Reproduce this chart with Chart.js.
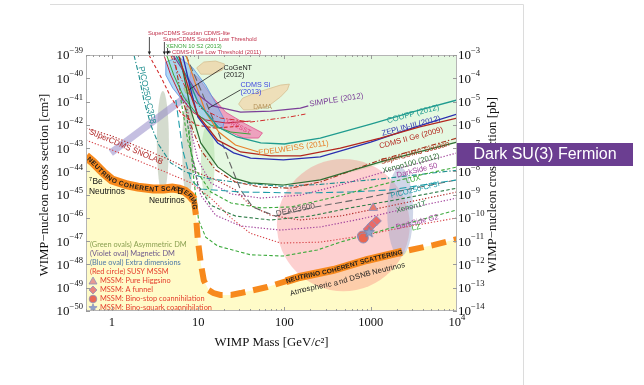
<!DOCTYPE html>
<html>
<head>
<meta charset="utf-8">
<script src="https://cdn.jsdelivr.net/npm/chart.js@4.4.0/dist/chart.umd.min.js"></script>
<style>
  html, body { margin: 0; padding: 0; background: #fff; }
  #wrap { position: relative; width: 644px; height: 385px; }
</style>
</head>
<body>
<div id="wrap"><canvas id="c" width="644" height="385"></canvas></div>
<script>
// WIMP mass in GeV/c^2, spin-independent cross section in cm^2.

// Region already excluded by current experiments
const excludedMass  = [4.2, 4.8, 6.3, 8.2, 10.7, 16, 27, 53, 97, 260, 760, 2200, 10000];
const excludedSigma = [1e-39, 1.38e-40, 1.17e-41, 1.0e-42, 1.35e-43, 1.86e-44, 4.3e-45, 2.6e-45, 2.3e-45, 4.3e-45, 1.15e-44, 3.7e-44, 1.66e-43];

// Neutrino coherent scattering floor
const floorMass  = [0.5, 0.6, 0.8, 1, 1.5, 2, 3, 4, 5, 6, 7, 8, 8.9, 9.4, 9.9, 10.7, 11.6, 13.2, 15, 18, 24, 31, 63, 150, 370, 900, 2200, 5300, 10000];
const floorSigma = [4.5e-44, 2.5e-44, 8.5e-45, 4.3e-45, 2.6e-45, 2.1e-45, 1.74e-45, 1.74e-45, 1.9e-45, 1.74e-45, 1.4e-45, 9.5e-46, 5.9e-46, 1.3e-46, 1.1e-47, 1.15e-48, 2.1e-49, 7.9e-50, 5.9e-50, 4.9e-50, 4.9e-50, 5.9e-50, 1.07e-49, 2.9e-49, 5.8e-49, 1.55e-48, 3.4e-48, 6.8e-48, 1.23e-47];

// Current limits
const couppMass = [5.5, 8.2, 10, 17, 28, 53, 100, 260, 1000, 3000, 10000];
const couppSigma = [1e-39, 5.1e-41, 8.7e-42, 8.1e-43, 3.0e-43, 1.66e-43, 1.5e-43, 2.7e-43, 1.07e-42, 3.5e-42, 1.17e-41];
const zeplinMass = [6.6, 8.2, 9.9, 16.8, 25.7, 40.5, 97, 260, 1000, 3000, 10000];
const zeplinSigma = [1e-39, 3.2e-41, 2.2e-42, 1.66e-43, 6.2e-44, 3.7e-44, 3.1e-44, 4.2e-44, 1.8e-43, 7.2e-43, 2.9e-42];
const cdmsGeMass = [5.95, 7.8, 9.9, 16.8, 31, 69, 153, 444, 1290, 3700, 10000];
const cdmsGeSigma = [1e-39, 3.2e-41, 2.6e-42, 2.2e-43, 6.8e-44, 4.6e-44, 4.6e-44, 1.0e-43, 2.7e-43, 8.1e-43, 1.95e-42];
const edelweissMass = [7.2, 9.4, 12.2, 17.3, 27, 50];
const edelweissSigma = [1e-39, 5.1e-41, 3.5e-42, 4.9e-43, 1.35e-43, 6.8e-44];
const simpleMass = [5.1, 7.2, 10.1, 14.7, 31, 69, 153, 189];
const simpleSigma = [1e-39, 1.38e-40, 1.9e-41, 6.5e-42, 3.5e-42, 3.9e-42, 5.2e-42, 6.5e-42];
const xenon100Mass = [5.95, 6.8, 8.2, 10.7, 16.8, 25.7, 40.5, 97, 261, 1390, 10000];
const xenon100Sigma = [1e-39, 1.38e-40, 4.4e-42, 1.66e-43, 1.55e-44, 5.1e-45, 3.2e-45, 2.6e-45, 4.3e-45, 2.75e-44, 1.8e-43];
const cdmsLiteMass = [2.68, 3.7, 4.8, 6.3, 9.4, 15.9, 31];
const cdmsLiteSigma = [1e-39, 1.12e-40, 1.58e-41, 3.2e-42, 9.8e-43, 7.2e-43, 8.9e-43];
const soudanLowMass = [4.0, 4.8, 6.3, 8.6, 12.2, 20.8, 40.5];
const soudanLowSigma = [1e-39, 1.38e-40, 1.58e-41, 3.5e-42, 1.62e-42, 1.2e-42, 1.45e-42];
const xenon10Mass = [4.3, 5.2, 6.8, 9.4, 14, 23.8, 40.5];
const xenon10Sigma = [1e-39, 1.38e-40, 1.58e-41, 3.2e-42, 9.8e-43, 4.9e-43, 4.0e-43];
const cdmsLowMass = [4.8, 5.8, 7.55, 10.7, 18.2, 40.5, 117, 175];
const cdmsLowSigma = [1e-39, 1.86e-40, 2.6e-41, 5.2e-42, 1.95e-42, 1.32e-42, 2.2e-42, 2.9e-42];

// Projected sensitivities
const soudanMass = [5.2, 6.3, 8.2, 10.7, 15.9, 27, 53, 117, 261, 1290, 10000];
const soudanSigma = [1e-39, 1.9e-41, 9.8e-43, 8.3e-44, 1.15e-44, 3.5e-45, 2.1e-45, 1.9e-45, 3.5e-45, 3.1e-44, 2.7e-43];
const darkside50Mass = [7.2, 8.2, 9.9, 14, 24, 53, 153, 444, 1290, 3700, 10000];
const darkside50Sigma = [1.17e-41, 6.0e-43, 3.1e-44, 3.2e-45, 1.07e-45, 7.1e-46, 9.5e-46, 2.6e-45, 8.5e-45, 2.3e-44, 6.2e-44];
const luxMass = [6.3, 7.55, 9.4, 14, 24, 53, 117, 340, 1290, 3700, 10000];
const luxSigma = [1.17e-41, 2.2e-43, 1.15e-44, 1.3e-45, 4.4e-46, 2.7e-46, 2.95e-46, 7.1e-46, 2.6e-45, 6.9e-45, 1.55e-44];
const picoCF3IMass = [5.5, 6.6, 8.2, 10.7, 31, 153, 580, 1680, 10000];
const picoCF3ISigma = [1.17e-41, 8.3e-44, 4.3e-45, 1.74e-45, 1.3e-45, 1.17e-45, 1.3e-45, 1.6e-45, 4.3e-45];
const xenon1TMass = [7.2, 8.2, 9.9, 14, 27, 69, 200, 580, 1920, 10000];
const xenon1TSigma = [5e-42, 8.3e-44, 2.6e-45, 3.5e-46, 1.2e-46, 8.1e-47, 1.2e-46, 2.7e-46, 5.9e-46, 1.9e-45];
const darksideG2Mass = [8.6, 10.7, 15.9, 31, 90, 261, 756, 2190, 10000];
const darksideG2Sigma = [3.1e-44, 9.5e-46, 1.3e-46, 4.5e-47, 3.0e-47, 4.1e-47, 8.9e-47, 2.2e-46, 7.1e-46];
const lzMass = [7.8, 8.9, 10.1, 12.2, 16.8, 40.5, 97, 241, 444, 1290, 3700, 10000];
const lzSigma = [6.0e-43, 4.3e-45, 8.1e-47, 1.5e-47, 6.2e-48, 2.6e-48, 2.3e-48, 4.2e-48, 9.1e-48, 2.75e-47, 8.1e-47, 2.2e-46];
const deapMass = [7.2, 10.7, 15.9, 22.5, 31, 42.7, 78.7, 228, 756, 2190, 10000];
const deapSigma = [1e-39, 3.2e-41, 9.8e-43, 3.1e-44, 1.6e-45, 2.95e-46, 1.2e-46, 2.95e-46, 6.5e-46, 1.45e-45, 4.3e-45];
const snolabGeMass = [0.5, 1, 2.2, 4.2, 8.2, 16, 27, 40, 69, 150, 440, 1300, 10000];
const snolabGeSigma = [7.2e-43, 3.3e-43, 1e-43, 3.7e-44, 1.15e-44, 4.3e-45, 1.6e-45, 3.5e-46, 1.3e-46, 8.1e-47, 1.2e-46, 2.7e-46, 1.3e-45];
const snolabSiMass = [0.5, 1, 2.2, 4.2, 8.2, 14, 24, 40, 90, 260, 760, 2200, 10000];
const snolabSiSigma = [2.2e-43, 8.3e-44, 2.5e-44, 9.3e-45, 3.2e-45, 7.1e-46, 1e-46, 2.2e-47, 8.3e-48, 9.1e-48, 1.66e-47, 3.7e-47, 1e-46];
const picoC3F8Mass = [1.8, 2.05, 2.34, 2.82, 3.5, 4.8, 7.2, 12.2, 31, 90, 260, 1290, 10000];
const picoC3F8Sigma = [1e-39, 1.38e-40, 1.17e-41, 9.8e-43, 1.35e-43, 2.3e-44, 9.3e-45, 5.1e-45, 3.2e-45, 2.3e-45, 2.75e-45, 4.7e-45, 1.12e-44];

// Signal regions
const cdmsSiMass = [4.21, 5.95, 8.64, 12.2, 15.9, 20.2, 19.2, 14.7, 10.1, 6.8, 5.06, 4.21];
const cdmsSiSigma = [5.0e-40, 8.2e-40, 2.8e-40, 5.1e-41, 8.7e-42, 1.62e-42, 7.2e-43, 8.1e-43, 2.4e-42, 9.5e-42, 3.8e-41, 1.38e-40];
const cresstMass = [8.19, 10.1, 14.0, 20.8, 35.6, 55.5, 50, 33.5, 20.8, 14.0, 10.1, 7.77];
const cresstSigma = [1.86e-40, 1.02e-40, 1.9e-41, 3.5e-42, 1.07e-42, 4.5e-43, 2.7e-43, 2.7e-43, 6.0e-43, 1.95e-42, 9.5e-42, 5.1e-41];
const damaMass = [29.4, 32.7, 42.7, 60.1, 89.9, 114, 108, 89.9, 65.5, 46, 33.5];
const damaSigma = [7.8e-42, 1.4e-41, 2.1e-41, 3.2e-41, 5.1e-41, 5.6e-41, 3.2e-41, 1.58e-41, 6.5e-42, 4.4e-42, 4.4e-42];
const cogentMass = [9.6, 11.6, 15.9, 20.2, 19.2, 14.7, 10.7];
const cogentSigma = [2.8e-40, 5.0e-40, 5.5e-40, 4.1e-40, 2.3e-40, 1.5e-40, 1.5e-40];
const overlapMass = [6.8, 7.77, 8.87, 8.4, 7.17];
const overlapSigma = [3.8e-41, 5.1e-41, 3.5e-41, 2.1e-41, 2.3e-41];
const magneticMass = [0.97, 7.2];
const magneticSigma = [6.2e-44, 1.58e-41];

// Model ovals: centre (mass, sigma) and half extent in decades
const ovalNames = ['SUSY MSSM', 'Extra dimensions', 'Asymmetric DM a', 'Asymmetric DM b', 'Asymmetric DM c'];
const ovalMass = [481, 2193, 3.89, 7.56, 12.9];
const ovalSigma = [4.9e-47, 1.78e-46, 1.8e-43, 1e-43, 2.6e-44];
const ovalMassDecades = [0.77, 0.15, 0.07, 0.064, 0.08];
const ovalSigmaDecades = [2.84, 1.93, 2.2, 2.15, 1.6];

// MSSM benchmark points
const higgsinoMass = [1070], higgsinoSigma = [2.7e-46];
const funnelMass = [1160, 1030, 935], funnelSigma = [7.4e-47, 4.9e-47, 3.3e-47];
const stopMass = [800, 820], stopSigma = [1.66e-47, 1.37e-47];
const squarkMass = [960], squarkSigma = [2.45e-47];

// Label pointers
const cogentLeadMass = [19.2, 7.77], cogentLeadSigma = [2.8e-40, 3.2e-41];
const cdmsSiLeadMass = [31, 13.2], cdmsSiLeadSigma = [3.2e-41, 5.2e-42];

// Axis ticks
const massTicks = [1, 10, 100, 1000, 10000];
const massTickLabels = ['1', '10', '100', '1000', '10^4'];
const sigmaExponents = [-39, -40, -41, -42, -43, -44, -45, -46, -47, -48, -49, -50];
const pbExponents = [-3, -4, -5, -6, -7, -8, -9, -10, -11, -12, -13, -14];

const SANS = '"Liberation Sans", Arial, Helvetica, sans-serif';
const SERIF = '"Liberation Serif", "Times New Roman", Times, serif';
const CAL = 'Lato, "Open Sans", sans-serif';
const ORANGE = '#f7891d';

function pts(ms, ss) { return ms.map((m, i) => ({ x: m, y: ss[i] })); }
function curve(label, ms, ss, color, dash, width, order) {
  return { label, data: pts(ms, ss), borderColor: color, borderDash: dash || [],
           borderWidth: width || 1.1, fill: false, order: order == null ? 20 : order,
           pointRadius: 0, borderCapStyle: 'butt' };
}
function region(label, ms, ss, fillColor, lineColor) {
  return { label, data: pts(ms.concat(ms[0]), ss.concat(ss[0])), fill: 'shape',
           backgroundColor: fillColor, borderColor: lineColor, borderWidth: 0.8,
           order: 80, pointRadius: 0 };
}
function markers(label, ms, ss, style, fillColor, r) {
  return { label, data: pts(ms, ss), showLine: false, pointStyle: style, pointRadius: r,
           backgroundColor: fillColor, borderColor: '#8d90bb', borderWidth: 1, order: 1 };
}

// filled star used as a point style
const starImg = document.createElement('canvas');
starImg.width = 12; starImg.height = 12;
(function () {
  const g = starImg.getContext('2d');
  g.beginPath();
  for (let i = 0; i < 10; i++) {
    const r = i % 2 ? 2.4 : 5.6, a = -Math.PI / 2 + i * Math.PI / 5;
    g.lineTo(6 + r * Math.cos(a), 6.3 + r * Math.sin(a));
  }
  g.closePath(); g.fillStyle = '#8fa3c9'; g.fill();
  g.strokeStyle = '#6f82aa'; g.lineWidth = 0.8; g.stroke();
})();

const DOT = [1.3, 1.8], DASH = [3.5, 2.2], LONG = [7, 3.5], DASHDOT = [5, 2, 1.3, 2];

const datasets = [
  { id: 'excluded', label: 'Excluded', data: pts(excludedMass, excludedSigma), fill: 'end',
    backgroundColor: '#e5f8e1', borderWidth: 0, order: 100, pointRadius: 0 },
  { id: 'floorFill', label: 'Neutrino background', data: pts(floorMass, floorSigma), fill: 'start',
    backgroundColor: '#fffbc8', borderWidth: 0, order: 99, pointRadius: 0 },
  region('CDMS Si', cdmsSiMass, cdmsSiSigma, 'rgba(125,190,240,0.6)', '#5b8de0'),
  region('CRESST', cresstMass, cresstSigma, 'rgba(242,110,168,0.62)', '#df4f8c'),
  region('DAMA', damaMass, damaSigma, '#eedfb9', '#d6bf92'),
  region('CoGeNT', cogentMass, cogentSigma, '#ecdcb4', '#d6bf92'),
  region('CoGeNT/CDMS Si', overlapMass, overlapSigma, '#f0e012', '#e0c800'),
  curve('Magnetic DM', magneticMass, magneticSigma, 'rgba(150,138,200,0.55)', null, 7, 85),

  curve('PICO250-C3F8', picoC3F8Mass, picoC3F8Sigma, '#1f8f8f', DASHDOT, 1.1, 40),
  curve('SuperCDMS SNOLAB Ge', snolabGeMass, snolabGeSigma, '#b22a2a', DOT, 1.1, 40),
  curve('SuperCDMS SNOLAB Si', snolabSiMass, snolabSiSigma, '#d8484c', DOT, 1.1, 40),
  curve('DEAP3600', deapMass, deapSigma, '#666666', LONG, 1.1, 38),
  curve('LZ', lzMass, lzSigma, '#3daa3d', DASH, 1.1, 36),
  curve('DarkSide G2', darksideG2Mass, darksideG2Sigma, '#a2449c', DOT, 1.2, 36),
  curve('Xenon1T', xenon1TMass, xenon1TSigma, '#2f7d48', DASH, 1.1, 36),
  curve('PICO250-CF3I', picoCF3IMass, picoCF3ISigma, '#1c9ca8', LONG, 1.1, 36),
  curve('LUX', luxMass, luxSigma, '#3daa3d', DASH, 1.1, 36),
  curve('DarkSide 50', darkside50Mass, darkside50Sigma, '#a2449c', DOT, 1.2, 36),
  curve('SuperCDMS Soudan', soudanMass, soudanSigma, '#a8331d', DASHDOT, 1.1, 34),
  curve('Xenon100 (2012)', xenon100Mass, xenon100Sigma, '#2e6e33', null, 1.2, 30),
  curve('CDMS-II Ge Low Threshold (2011)', cdmsLowMass, cdmsLowSigma, '#d22c2c', DASHDOT, 1.0, 30),
  curve('XENON 10 S2 (2013)', xenon10Mass, xenon10Sigma, '#3aa53a', null, 1.0, 30),
  curve('SuperCDMS Soudan Low Threshold', soudanLowMass, soudanLowSigma, '#c2253f', null, 1.0, 30),
  curve('SuperCDMS Soudan CDMS-lite', cdmsLiteMass, cdmsLiteSigma, '#d23030', DASH, 1.1, 30),
  curve('SIMPLE (2012)', simpleMass, simpleSigma, '#7b3f98', null, 1.2, 28),
  curve('EDELWEISS (2011)', edelweissMass, edelweissSigma, '#e8802a', null, 1.2, 28),
  curve('CDMS II Ge (2009)', cdmsGeMass, cdmsGeSigma, '#b3261e', null, 1.3, 26),
  curve('ZEPLIN-III (2012)', zeplinMass, zeplinSigma, '#2b2fb0', null, 1.3, 26),
  curve('COUPP (2012)', couppMass, couppSigma, '#1f9b8f', null, 1.3, 26),

  curve('CoGeNT pointer', cogentLeadMass, cogentLeadSigma, '#222', null, 0.8, 8),
  curve('CDMS Si pointer', cdmsSiLeadMass, cdmsSiLeadSigma, '#222', null, 0.8, 8),

  curve('Neutrino floor', floorMass.slice(0, 13), floorSigma.slice(0, 13), ORANGE, null, 9, 6),
  curve('Neutrino floor (high mass)', floorMass.slice(12), floorSigma.slice(12), ORANGE, [15, 8], 6, 6),

  markers('MSSM: Pure Higgsino', higgsinoMass, higgsinoSigma, 'triangle', '#ea7a6c', 5),
  markers('MSSM: A funnel', funnelMass, funnelSigma, 'rectRot', '#e96a68', 5),
  markers('MSSM: Bino-stop coannihilation', stopMass, stopSigma, 'circle', '#e9654f', 5),
  { label: 'MSSM: Bino-squark coannihilation', data: pts(squarkMass, squarkSigma), showLine: false,
    pointStyle: starImg, pointRadius: 6, order: 0 }
];

// Curve labels: text, mass, sigma of the text centre, angle (deg), colour, size
const curveLabels = [
  ['COUPP (2012)', 3100, 2.9e-42, -15, '#1f9b8f', 8],
  ['ZEPLIN-III (2012)', 2940, 8.9e-43, -15, '#2b2fb0', 7.7],
  ['CDMS II Ge (2009)', 2940, 2.7e-43, -15, '#b3261e', 7.7],
  ['SuperCDMS Soudan', 3270, 6.2e-44, -15, '#a8331d', 7.6],
  ['Xenon100 (2012)', 2940, 2.2e-44, -15, '#2e6e33', 7.6],
  ['DarkSide 50', 3450, 1.1e-44, -14, '#a2449c', 7.6],
  ['LUX', 3100, 4.5e-45, -14, '#3daa3d', 7.6],
  ['PICO250-CF3I', 3270, 1.6e-45, -14, '#1c9ca8', 7.6],
  ['Xenon1T', 2940, 2.95e-46, -14, '#2f7d48', 7.6],
  ['DarkSide G2', 3450, 6.6e-47, -14, '#a2449c', 7.6],
  ['LZ', 3360, 3.8e-47, -14, '#3daa3d', 7.6],
  ['EDELWEISS (2011)', 127, 1.0e-43, -8, '#e8802a', 8],
  ['SIMPLE (2012)', 399, 1.17e-41, -9, '#7b3f98', 8],
  ['DEAP3600', 134, 2.2e-46, -12, '#555555', 8],
  ['SuperCDMS SNOLAB', 1.45, 1.12e-43, 23, '#b22a2a', 8],
  ['PICO250-C3F8', 2.54, 1.9e-41, 78, '#1f8f8f', 8.5],
  ['CRESST', 29.4, 8.1e-43, 27, '#e03f7a', 6.5],
  ['DAMA', 55.7, 5.9e-42, 0, '#b4935a', 6.5]
];

// Left-aligned two-line notes: lines, mass, sigma of first line, colour, size, line step (px)
const notes = [
  [['CoGeNT', '(2012)'], 19.7, 2.8e-40, '#222', 7.2, 7],
  [['CDMS Si', '(2013)'], 31, 5.1e-41, '#3c44e0', 7.2, 7]
];

const legendRows = [
  ['(Green ovals) Asymmetric DM', '#8ba052', null],
  ['(Violet oval) Magnetic DM', '#6e5a8c', null],
  ['(Blue oval) Extra dimensions', '#4f7aa6', null],
  ['(Red circle) SUSY MSSM', '#e5402e', null],
  ['MSSM: Pure Higgsino', '#e5402e', 'triangle'],
  ['MSSM: A funnel', '#e5402e', 'diamond'],
  ['MSSM: Bino-stop coannihilation', '#e5402e', 'circle'],
  ['MSSM: Bino-squark coannihilation', '#e5402e', 'star']
];

const ovalColors = ['rgba(250,110,110,0.32)', 'rgba(150,165,205,0.45)',
                    'rgba(160,176,146,0.45)', 'rgba(160,176,146,0.45)', 'rgba(176,222,164,0.5)'];

function pathPx(chart, ms, ss) {
  const x = chart.scales.x, y = chart.scales.y;
  return ms.map((m, i) => [x.getPixelForValue(m), y.getPixelForValue(ss[i])]);
}
// keep the part of a pixel polyline between two x positions
function trimPath(P, x0, x1) {
  const out = [];
  for (let i = 1; i < P.length; i++) {
    const a = P[i - 1], b = P[i];
    if (b[0] < x0 || a[0] > x1) continue;
    const cut = (xx) => [xx, a[1] + (b[1] - a[1]) * (xx - a[0]) / (b[0] - a[0])];
    if (!out.length) out.push(a[0] < x0 ? cut(x0) : a);
    out.push(b[0] > x1 ? cut(x1) : b);
  }
  return out;
}
function textOnPath(ctx, text, P, font, color, offset) {
  const L = [0];
  for (let i = 1; i < P.length; i++) L.push(L[i - 1] + Math.hypot(P[i][0] - P[i - 1][0], P[i][1] - P[i - 1][1]));
  const total = L[L.length - 1];
  ctx.font = font;
  const k = total / ctx.measureText(text).width;
  ctx.fillStyle = color; ctx.textAlign = 'center'; ctx.textBaseline = 'middle';
  let s = 0;
  for (const ch of text) {
    const cw = ctx.measureText(ch).width * k;
    const mid = s + cw / 2;
    let i = 1;
    while (i < L.length - 1 && L[i] < mid) i++;
    const t = (mid - L[i - 1]) / ((L[i] - L[i - 1]) || 1);
    const px = P[i - 1][0] + t * (P[i][0] - P[i - 1][0]);
    const py = P[i - 1][1] + t * (P[i][1] - P[i - 1][1]);
    const ang = Math.atan2(P[i][1] - P[i - 1][1], P[i][0] - P[i - 1][0]);
    ctx.save(); ctx.translate(px, py); ctx.rotate(ang); ctx.fillText(ch, 0, offset); ctx.restore();
    s += cw;
  }
}
function powerLabel(ctx, exp, x, y, align, size, expSize) {
  ctx.font = size + 'px ' + SERIF; const wb = ctx.measureText('10').width;
  ctx.font = expSize + 'px ' + SERIF; const we = ctx.measureText(exp).width;
  const x0 = align === 'right' ? x - wb - we : align === 'center' ? x - (wb + we) / 2 : x;
  ctx.textAlign = 'left'; ctx.textBaseline = 'alphabetic'; ctx.fillStyle = '#111';
  ctx.font = size + 'px ' + SERIF; ctx.fillText('10', x0, y + size * 0.34);
  ctx.font = expSize + 'px ' + SERIF; ctx.fillText(exp, x0 + wb, y - size * 0.14);
}
function symbol(ctx, kind, x, y) {
  ctx.save(); ctx.lineWidth = 0.8; ctx.strokeStyle = '#8d90bb';
  ctx.beginPath();
  if (kind === 'triangle') { ctx.moveTo(x, y - 4); ctx.lineTo(x + 4, y + 3); ctx.lineTo(x - 4, y + 3); ctx.closePath(); ctx.fillStyle = '#e79a92'; }
  else if (kind === 'diamond') { ctx.moveTo(x, y - 4); ctx.lineTo(x + 4, y); ctx.lineTo(x, y + 4); ctx.lineTo(x - 4, y); ctx.closePath(); ctx.fillStyle = '#e7867e'; }
  else if (kind === 'circle') { ctx.arc(x, y, 3.8, 0, Math.PI * 2); ctx.fillStyle = '#e96a55'; }
  else {
    for (let i = 0; i < 10; i++) { const r = i % 2 ? 1.8 : 4.3, a = -Math.PI / 2 + i * Math.PI / 5; ctx.lineTo(x + r * Math.cos(a), y + r * Math.sin(a)); }
    ctx.closePath(); ctx.fillStyle = '#8fa3c9';
  }
  ctx.fill(); ctx.stroke(); ctx.restore();
}
function arrowHead(ctx, x, y, dx, dy) {
  const l = Math.hypot(dx, dy), ux = dx / l, uy = dy / l;
  ctx.beginPath(); ctx.moveTo(x, y);
  ctx.lineTo(x - 3.5 * ux + 1.6 * uy, y - 3.5 * uy - 1.6 * ux);
  ctx.lineTo(x - 3.5 * ux - 1.6 * uy, y - 3.5 * uy + 1.6 * ux);
  ctx.closePath(); ctx.fill();
}

const decor = {
  id: 'decor',
  afterDatasetDraw(chart, args) {
    if (chart.data.datasets[args.index].id !== 'floorFill') return;
    const { ctx, chartArea: a, scales: { x, y } } = chart;
    ctx.save();
    ctx.beginPath(); ctx.rect(a.left, a.top, a.right - a.left, a.bottom - a.top); ctx.clip();
    ovalMass.forEach((m, i) => {
      const cx = x.getPixelForValue(m), cy = y.getPixelForValue(ovalSigma[i]);
      const rx = x.getPixelForValue(m * Math.pow(10, ovalMassDecades[i])) - cx;
      const ry = cy - y.getPixelForValue(ovalSigma[i] * Math.pow(10, ovalSigmaDecades[i]));
      ctx.beginPath(); ctx.ellipse(cx, cy, rx, ry, 0, 0, Math.PI * 2);
      ctx.fillStyle = ovalColors[i]; ctx.fill();
    });
    ctx.restore();
  },
  afterDatasetsDraw(chart) {
    const { ctx, chartArea: a, scales: { x, y } } = chart;
    ctx.save();
    ctx.beginPath(); ctx.rect(a.left, a.top, a.right - a.left, a.bottom - a.top); ctx.clip();

    // text riding on the neutrino floor
    const floorPx = pathPx(chart, floorMass, floorSigma);
    const low = trimPath(floorPx, a.left + 2, x.getPixelForValue(9.2));
    textOnPath(ctx, 'NEUTRINO COHERENT SCATTERING', low, 'bold 6.6px ' + SANS, '#1d1d1d', 0.5);
    const high = trimPath(floorPx, 286, 402);
    ctx.beginPath(); high.forEach((p, i) => i ? ctx.lineTo(p[0], p[1]) : ctx.moveTo(p[0], p[1]));
    ctx.strokeStyle = ORANGE; ctx.lineWidth = 8; ctx.stroke();
    textOnPath(ctx, 'NEUTRINO COHERENT SCATTERING', high, 'bold 6.6px ' + SANS, '#1d1d1d', 0.5);
    textOnPath(ctx, 'Atmospheric and DSNB Neutrinos', high, '7.6px ' + SANS, '#1d1d1d', 13.5);

    // curve and region labels
    curveLabels.forEach(([t, m, s, ang, col, size]) => {
      ctx.save();
      ctx.translate(x.getPixelForValue(m), y.getPixelForValue(s));
      ctx.rotate(ang * Math.PI / 180);
      ctx.font = size + 'px ' + SANS; ctx.fillStyle = col;
      ctx.textAlign = 'center'; ctx.textBaseline = 'middle';
      ctx.fillText(t, 0, 0);
      ctx.restore();
    });
    notes.forEach(([lines, m, s, col, size, step]) => {
      ctx.font = size + 'px ' + SANS; ctx.fillStyle = col;
      ctx.textAlign = 'left'; ctx.textBaseline = 'middle';
      lines.forEach((t, i) => ctx.fillText(t, x.getPixelForValue(m), y.getPixelForValue(s) + i * step));
    });

    // neutrino source labels
    const sup = (base, supText, m, s) => {
      const px = x.getPixelForValue(m), py = y.getPixelForValue(s);
      ctx.fillStyle = '#111'; ctx.textAlign = 'left'; ctx.textBaseline = 'middle';
      ctx.font = '5.5px ' + SANS; ctx.fillText(supText, px, py - 2.5);
      const w = ctx.measureText(supText).width;
      ctx.font = '8.4px ' + SANS; ctx.fillText(base, px + w + 0.3, py);
    };
    sup('Be', '7', 0.542, 3.5e-45);
    sup('B', '8', 5.21, 1.3e-45);
    ctx.font = '8.4px ' + SANS; ctx.fillStyle = '#111'; ctx.textAlign = 'left'; ctx.textBaseline = 'middle';
    ctx.fillText('Neutrinos', x.getPixelForValue(0.542), y.getPixelForValue(1.3e-45));
    ctx.fillText('Neutrinos', x.getPixelForValue(2.68), y.getPixelForValue(5.4e-46));

    // model legend
    legendRows.forEach(([t, col, kind], i) => {
      const ly = a.bottom - 66 + i * 9;
      let lx = a.left + 4;
      if (kind) { symbol(ctx, kind, lx + 3, ly); lx += 10; }
      ctx.font = '7.4px ' + CAL; ctx.fillStyle = col;
      ctx.textAlign = 'left'; ctx.textBaseline = 'middle';
      ctx.fillText(t, lx, ly);
    });
    ctx.restore();
  },
  afterDraw(chart) {
    const { ctx, chartArea: a, scales: { x, y } } = chart;
    ctx.save();
    // frame and ticks
    ctx.strokeStyle = '#b5b5b5'; ctx.lineWidth = 1;
    ctx.strokeRect(a.left + 0.5, a.top + 0.5, a.right - a.left - 1, a.bottom - a.top - 1);
    ctx.strokeStyle = '#9a9a9a';
    ctx.beginPath();
    for (let d = 0.1; d <= 1000; d *= 10) {
      for (let k = 1; k <= 9; k++) {
        const v = d * k; if (v < 0.5 || v > 10000) continue;
        const px = Math.round(x.getPixelForValue(v)) + 0.5, len = k === 1 ? 4 : 2;
        ctx.moveTo(px, a.bottom); ctx.lineTo(px, a.bottom - len);
        ctx.moveTo(px, a.top); ctx.lineTo(px, a.top + len);
      }
    }
    sigmaExponents.forEach(e => {
      const py = Math.round(y.getPixelForValue(Math.pow(10, e))) + 0.5;
      ctx.moveTo(a.left, py); ctx.lineTo(a.left + 4, py);
      ctx.moveTo(a.right, py); ctx.lineTo(a.right - 4, py);
    });
    ctx.stroke();

    // tick labels
    sigmaExponents.forEach((e, i) => {
      const py = y.getPixelForValue(Math.pow(10, e));
      powerLabel(ctx, '\u2212' + Math.abs(e), a.left - 3, py, 'right', 13, 8.6);
      powerLabel(ctx, '\u2212' + Math.abs(pbExponents[i]), a.right + 1, py, 'left', 13, 8.6);
    });
    massTicks.forEach((m, i) => {
      const px = x.getPixelForValue(m);
      const lab = massTickLabels[i];
      if (lab.indexOf('^') > 0) { powerLabel(ctx, lab.split('^')[1], px, a.bottom + 11, 'center', 12.5, 8.6); return; }
      ctx.font = '12.5px ' + SERIF; ctx.fillStyle = '#111';
      ctx.textAlign = 'center'; ctx.textBaseline = 'middle';
      ctx.fillText(lab, px, a.bottom + 12);
    });

    // axis titles
    ctx.fillStyle = '#111'; ctx.textBaseline = 'middle'; ctx.textAlign = 'center';
    ctx.font = '12.8px ' + SERIF;
    const midY = (a.top + a.bottom) / 2 + 2;
    ctx.save(); ctx.translate(45, midY); ctx.rotate(-Math.PI / 2);
    ctx.fillText('WIMP\u2212nucleon cross section [cm\u00b2]', 0, 0); ctx.restore();
    ctx.save(); ctx.translate(a.right + 36, midY); ctx.rotate(-Math.PI / 2);
    ctx.fillText('WIMP\u2212nucleon cross section [pb]', 0, 0); ctx.restore();
    // x title with italic c
    const parts = [['WIMP Mass [GeV/', '12.8px '], ['c', 'italic 12.8px '], ['\u00b2]', '12.8px ']];
    let tw = 0; parts.forEach(p => { ctx.font = p[1] + SERIF; tw += ctx.measureText(p[0]).width; });
    let tx = (a.left + a.right) / 2 - tw / 2;
    ctx.textAlign = 'left';
    parts.forEach(p => { ctx.font = p[1] + SERIF; ctx.fillText(p[0], tx, a.bottom + 32); tx += ctx.measureText(p[0]).width; });

    // low-threshold result labels above the frame
    const tops = [
      ['SuperCDMS Soudan CDMS-lite', 2.68, 22, '#c0304a', 18],
      ['SuperCDMS Soudan Low Threshold', 4.0, 16, '#c0304a', 13],
      ['XENON 10 S2 (2013)', 4.35, 9, '#3aa53a', 7],
      ['CDMS-II Ge Low Threshold (2011)', 5.1, 3, '#c0304a', 0]
    ];
    ctx.font = '5.8px ' + SANS; ctx.textBaseline = 'middle'; ctx.textAlign = 'left';
    tops.forEach(([t, m, dy, col, arrow]) => {
      const px = x.getPixelForValue(m);
      ctx.fillStyle = col; ctx.fillText(t, px - 1, a.top - dy);
      ctx.strokeStyle = '#222'; ctx.fillStyle = '#222'; ctx.lineWidth = 0.8;
      if (arrow) {
        ctx.beginPath(); ctx.moveTo(px + 0.5, a.top - arrow); ctx.lineTo(px + 0.5, a.top - 3); ctx.stroke();
        arrowHead(ctx, px + 0.5, a.top, 0, 1);
      } else {
        ctx.beginPath(); ctx.moveTo(px - 2, a.top - 3); ctx.lineTo(px - 5, a.top - 3); ctx.stroke();
        arrowHead(ctx, px - 7, a.top - 3, -1, 0);
      }
    });

    // page edges
    ctx.strokeStyle = '#dcdcdc'; ctx.lineWidth = 1;
    ctx.beginPath(); ctx.moveTo(50, 4.5); ctx.lineTo(523.5, 4.5); ctx.lineTo(523.5, 385); ctx.stroke();

    // title tag
    ctx.fillStyle = '#6b3e91'; ctx.fillRect(457, 143, 176, 23);
    ctx.fillStyle = '#ffffff'; ctx.font = '16px ' + SANS; ctx.textAlign = 'center'; ctx.textBaseline = 'middle';
    ctx.fillText('Dark SU(3) Fermion', 545, 155);
    ctx.restore();
  }
};

new Chart(document.getElementById('c'), {
  type: 'line',
  data: { datasets },
  options: {
    responsive: false,
    animation: false,
    devicePixelRatio: 1,
    events: [],
    layout: { padding: { left: 86, right: 187, top: 55, bottom: 74 } },
    scales: {
      x: { type: 'logarithmic', min: 0.5, max: 10000, display: false },
      y: { type: 'logarithmic', min: 1e-50, max: 1e-39, display: false }
    },
    plugins: { legend: { display: false }, tooltip: { enabled: false } },
    elements: { point: { radius: 0 }, line: { tension: 0 } }
  },
  plugins: [decor]
});
</script>
</body>
</html>
